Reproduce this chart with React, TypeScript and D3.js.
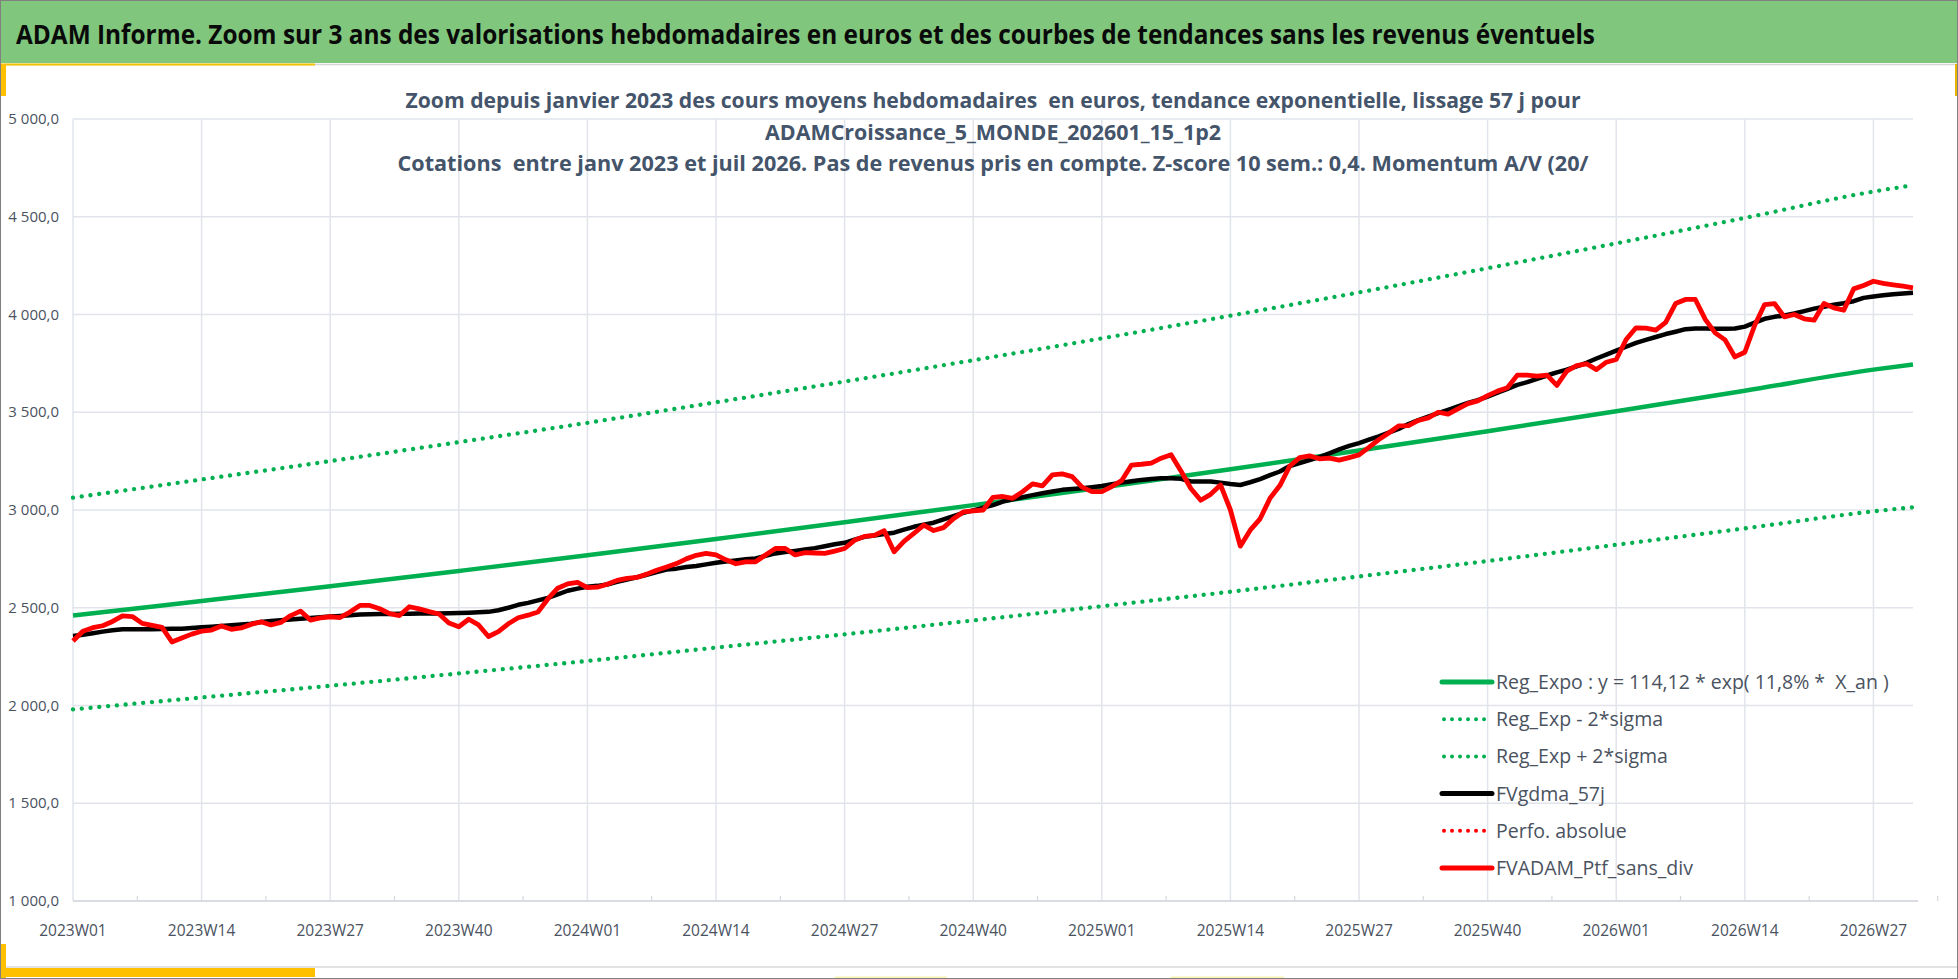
import React, { useEffect, useRef } from 'react';
import * as d3 from 'd3';

const WIDTH = 1958;
const HEIGHT = 979;

const mainTitle = "ADAM Informe. Zoom sur 3 ans des valorisations hebdomadaires en euros et des courbes de tendances sans les revenus éventuels";
const subTitleLines = [
    "Zoom depuis janvier 2023 des cours moyens hebdomadaires  en euros, tendance exponentielle, lissage 57 j pour",
    "ADAMCroissance_5_MONDE_202601_15_1p2",
    "Cotations  entre janv 2023 et juil 2026. Pas de revenus pris en compte. Z-score 10 sem.: 0,4. Momentum A/V (20/"
];

// weekly categories : 2023W01 .. 2026W31
const years = [2023, 2024, 2025, 2026];
const weeksInYear = [52, 52, 52, 31];

const tickLabels = [
    '2023W01', '2023W14', '2023W27', '2023W40',
    '2024W01', '2024W14', '2024W27', '2024W40',
    '2025W01', '2025W14', '2025W27', '2025W40',
    '2026W01', '2026W14', '2026W27'
];

const yTicks = [1000, 1500, 2000, 2500, 3000, 3500, 4000, 4500, 5000];

// FVADAM_Ptf_sans_div (red)
const ptfValues = [
    2330, 2380, 2398, 2408, 2430, 2458, 2455, 2420, 2410, 2400,
    2325, 2345, 2365, 2380, 2386, 2407, 2390, 2397, 2415, 2428,
    2412, 2425, 2460, 2483, 2437, 2448, 2454, 2450, 2478, 2512,
    2512, 2495, 2470, 2460, 2505, 2494, 2480, 2468, 2422, 2403,
    2441, 2412, 2353, 2378, 2418, 2449, 2462, 2478, 2545, 2600,
    2622, 2630, 2603, 2605, 2620, 2640, 2650, 2655, 2672, 2692,
    2708, 2726, 2750, 2768, 2778, 2770, 2745, 2725, 2735, 2735,
    2770, 2803, 2803, 2770, 2782, 2780, 2778, 2790, 2803, 2845,
    2865, 2870, 2894, 2786, 2840, 2880, 2923, 2895, 2910, 2955,
    2990, 2995, 3000, 3065, 3069, 3060, 3094, 3134, 3123, 3180,
    3185, 3171, 3117, 3094, 3094, 3120, 3150, 3230, 3234, 3240,
    3265, 3283, 3200, 3110, 3050, 3080, 3128, 3000, 2815, 2897,
    2955, 3060, 3125, 3225, 3268, 3277, 3262, 3265, 3255, 3268,
    3282, 3320, 3360, 3394, 3430, 3432, 3458, 3471, 3500, 3490,
    3517, 3544, 3558, 3585, 3608, 3625, 3690, 3690, 3685, 3690,
    3637, 3710, 3739, 3748, 3718, 3756, 3770, 3872, 3932, 3930,
    3920, 3960, 4056, 4077, 4077, 3975, 3906, 3870, 3783, 3807,
    3945, 4051, 4056, 3988, 4000, 3978, 3971, 4056, 4034, 4022,
    4131, 4148, 4170, 4159, 4152, 4145, 4136
];

// FVgdma_57j (black)
const gdmaValues = [
    2356, 2362, 2370, 2378, 2385, 2390, 2390, 2390, 2390, 2391,
    2392, 2393, 2396, 2400, 2403, 2407, 2410, 2414, 2418, 2427,
    2432, 2436, 2440, 2444, 2448, 2452, 2455, 2458, 2462, 2466,
    2467, 2468, 2468, 2469, 2469, 2470, 2470, 2471, 2472, 2473,
    2475, 2477, 2479, 2487, 2500, 2515, 2525, 2538, 2550, 2568,
    2587, 2598, 2607, 2612, 2619, 2632, 2644, 2656, 2669, 2682,
    2695, 2700, 2708, 2714, 2722, 2730, 2737, 2742, 2748, 2752,
    2765, 2778, 2785, 2791, 2798, 2805, 2815, 2825, 2832, 2848,
    2863, 2870, 2877, 2884, 2900, 2914, 2925, 2935, 2952, 2969,
    2985, 2998, 3012, 3025, 3043, 3055, 3065, 3076, 3086, 3095,
    3103, 3107, 3111, 3117, 3123, 3132, 3140, 3147, 3154, 3158,
    3163, 3163, 3160, 3146, 3146, 3146, 3140, 3133, 3128, 3142,
    3158, 3178, 3197, 3225, 3240, 3255, 3270, 3290, 3310, 3328,
    3342, 3360, 3377, 3396, 3415, 3440, 3460, 3478, 3495, 3512,
    3530, 3548, 3562, 3580, 3600, 3620, 3640, 3654, 3671, 3688,
    3704, 3718, 3735, 3753, 3775, 3795, 3815, 3835, 3855, 3870,
    3885, 3900, 3912, 3925, 3928, 3928, 3927, 3927, 3928, 3938,
    3958, 3978, 3988, 3995, 4005, 4017, 4030, 4040, 4050, 4058,
    4068, 4085, 4092, 4098, 4104, 4108, 4111
];

// regression curves, read at the labelled weeks and at the last week
const trendWeeks = [0, 13, 26, 39, 52, 65, 78, 91, 104, 117, 130, 143, 156, 169, 182, 186];
const regExpo = [2460, 2535, 2610, 2688, 2768, 2852, 2937, 3025, 3115, 3208, 3304, 3403, 3505, 3610, 3718, 3744];
const regMinus = [1980, 2041, 2101, 2164, 2228, 2296, 2364, 2435, 2508, 2582, 2660, 2739, 2822, 2906, 2993, 3014];
const regPlus = [3063, 3156, 3250, 3347, 3446, 3551, 3657, 3766, 3878, 3994, 4113, 4237, 4364, 4494, 4629, 4661];

const legendLabels = [
    "Reg_Expo : y = 114,12 * exp( 11,8% *  X_an )",
    "Reg_Exp - 2*sigma",
    "Reg_Exp + 2*sigma",
    "FVgdma_57j",
    "Perfo. absolue",
    "FVADAM_Ptf_sans_div"
];

const GREEN = '#00B050';
const RED = '#FF0000';
const TEXT = '#4A5260';
const GRID = '#E1E4EA';
const FONT = "'Open Sans', 'Noto Sans', sans-serif";

export default function App() {
    const svgRef = useRef(null);

    useEffect(() => {
        const svg = d3.select(svgRef.current);
        svg.selectAll('*').remove();

        const categories = [];
        years.forEach((yr, i) => {
            for (let w = 1; w <= weeksInYear[i]; w++) {
                categories.push(`${yr}W${String(w).padStart(2, '0')}`);
            }
        });

        const left = 73, right = 1913, top = 119, bottom = 901;

        const x = d3.scalePoint().domain(categories).range([left, right]);
        const y = d3.scaleLinear().domain([1000, 5000]).range([bottom, top]);
        const fmt = d3.formatLocale({ decimal: ',', thousands: ' ', grouping: [3], currency: ['', ''] }).format(',.1f');

        // frame
        svg.append('rect').attr('width', WIDTH).attr('height', HEIGHT).attr('fill', '#fff');
        svg.append('rect').attr('x', 0).attr('y', 0).attr('width', WIDTH).attr('height', 63).attr('fill', '#80C77D');
        svg.append('line').attr('x1', 0).attr('x2', WIDTH).attr('y1', 64.5).attr('y2', 64.5)
            .attr('stroke', '#D6D6D6').attr('stroke-width', 1.5);
        svg.append('line').attr('x1', 0).attr('x2', 315).attr('y1', 64.5).attr('y2', 64.5)
            .attr('stroke', '#F2C200').attr('stroke-width', 2);
        svg.append('rect').attr('x', 0).attr('y', 64).attr('width', 6).attr('height', 32).attr('fill', '#FFC000');
        svg.append('rect').attr('x', WIDTH - 3).attr('y', 64).attr('width', 2).attr('height', 32).attr('fill', '#E8B400');
        svg.append('line').attr('x1', 0).attr('x2', WIDTH).attr('y1', 967).attr('y2', 967)
            .attr('stroke', '#D9D9D9').attr('stroke-width', 1.5);
        svg.append('rect').attr('x', 0).attr('y', 968).attr('width', 315).attr('height', 9).attr('fill', '#FFC000');
        svg.append('rect').attr('x', 0).attr('y', 944).attr('width', 6).attr('height', 35).attr('fill', '#FFC000');
        svg.append('rect').attr('x', 835).attr('y', 976.5).attr('width', 112).attr('height', 1.5).attr('fill', '#F7F2B0');
        svg.append('rect').attr('x', 1171).attr('y', 976.5).attr('width', 113).attr('height', 1.5).attr('fill', '#F7F2B0');
        svg.append('rect').attr('x', 0.5).attr('y', 0.5).attr('width', WIDTH - 1).attr('height', HEIGHT - 1)
            .attr('fill', 'none').attr('stroke', '#808080').attr('stroke-width', 1);

        svg.append('text')
            .attr('x', 16).attr('y', 44)
            .attr('font-family', FONT).attr('font-size', 26).attr('font-weight', 700)
            .attr('textLength', 1579).attr('lengthAdjust', 'spacingAndGlyphs')
            .attr('fill', '#0A0A0A')
            .text(mainTitle);

        // grid
        const grid = svg.append('g');
        grid.selectAll('.hgrid')
            .data(yTicks.filter(v => v > 1000))
            .enter().append('line')
            .attr('x1', left).attr('x2', right)
            .attr('y1', d => y(d)).attr('y2', d => y(d))
            .attr('stroke', GRID).attr('stroke-width', 1.5);
        grid.selectAll('.vgrid')
            .data(tickLabels)
            .enter().append('line')
            .attr('x1', d => x(d)).attr('x2', d => x(d))
            .attr('y1', top).attr('y2', bottom)
            .attr('stroke', GRID).attr('stroke-width', 1.5);

        // minor ticks between labels
        const step = x.step();
        grid.selectAll('.mtick')
            .data(tickLabels)
            .enter().append('line')
            .attr('x1', d => x(d) + step * 6.5).attr('x2', d => x(d) + step * 6.5)
            .attr('y1', bottom - 5).attr('y2', bottom)
            .attr('stroke', '#D4D7DD').attr('stroke-width', 1.2);

        grid.append('line')
            .attr('x1', left).attr('x2', right + 5)
            .attr('y1', bottom).attr('y2', bottom)
            .attr('stroke', '#D9DCE2').attr('stroke-width', 2);

        // axis labels
        svg.append('g').selectAll('text')
            .data(yTicks)
            .enter().append('text')
            .attr('x', 59).attr('y', d => y(d) + 5)
            .attr('text-anchor', 'end')
            .attr('font-family', FONT).attr('font-size', 15)
            .attr('fill', TEXT)
            .text(d => fmt(d));

        svg.append('g').selectAll('text')
            .data(tickLabels)
            .enter().append('text')
            .attr('x', d => x(d)).attr('y', 936)
            .attr('text-anchor', 'middle')
            .attr('font-family', FONT).attr('font-size', 15.5)
            .attr('fill', TEXT)
            .text(d => d);

        // series
        const xw = (i) => x(categories[i]);
        const trendLine = d3.line().x((d, i) => xw(trendWeeks[i])).y(d => y(d)).curve(d3.curveMonotoneX);
        const weekLine = d3.line().x((d, i) => xw(i)).y(d => y(d));

        const series = svg.append('g').attr('fill', 'none').attr('stroke-linejoin', 'round');

        series.append('path').attr('d', trendLine(regExpo))
            .attr('stroke', GREEN).attr('stroke-width', 4.5);
        [regMinus, regPlus].forEach(vals => {
            series.append('path').attr('d', trendLine(vals))
                .attr('stroke', GREEN).attr('stroke-width', 4.3)
                .attr('stroke-linecap', 'round').attr('stroke-dasharray', '0.01 8.8');
        });
        series.append('path').attr('d', weekLine(gdmaValues))
            .attr('stroke', '#000').attr('stroke-width', 4.5);
        series.append('path').attr('d', weekLine(ptfValues))
            .attr('stroke', RED).attr('stroke-width', 4.8);

        // subtitle (drawn over the plot like the original)
        svg.append('g').selectAll('text')
            .data(subTitleLines)
            .enter().append('text')
            .attr('x', 993).attr('y', (d, i) => 108 + i * 31.5)
            .attr('text-anchor', 'middle')
            .attr('font-family', FONT).attr('font-size', 20.5).attr('font-weight', 700)
            .attr('fill', '#44546A')
            .style('white-space', 'pre')
            .attr('textLength', (d, i) => [1175, 456, 1191][i])
            .attr('lengthAdjust', 'spacingAndGlyphs')
            .text(d => d);

        // legend
        const legendStyles = [
            { color: GREEN, dash: null, w: 5 },
            { color: GREEN, dash: '0.01 8', w: 4 },
            { color: GREEN, dash: '0.01 8', w: 4 },
            { color: '#000', dash: null, w: 5 },
            { color: RED, dash: '0.01 8', w: 4 },
            { color: RED, dash: null, w: 5 }
        ];
        const legend = svg.append('g').attr('transform', 'translate(1442, 682)');
        const rows = legend.selectAll('g')
            .data(legendLabels)
            .enter().append('g')
            .attr('transform', (d, i) => `translate(0, ${i * 37.2})`);
        rows.append('line')
            .attr('x1', (d, i) => legendStyles[i].dash ? 2 : 0).attr('x2', 50)
            .attr('y1', 0).attr('y2', 0)
            .attr('stroke', (d, i) => legendStyles[i].color)
            .attr('stroke-width', (d, i) => legendStyles[i].w)
            .attr('stroke-linecap', 'round')
            .attr('stroke-dasharray', (d, i) => legendStyles[i].dash);
        rows.append('text')
            .attr('x', 54).attr('y', 7)
            .attr('font-family', FONT).attr('font-size', 19.5)
            .attr('fill', TEXT)
            .style('white-space', 'pre')
            .text(d => d);
    }, []);

    return (
        <div>
            <style>{'body{margin:0;}'}</style>
            <svg ref={svgRef} width={WIDTH} height={HEIGHT} style={{ display: 'block' }} />
        </div>
    );
}
